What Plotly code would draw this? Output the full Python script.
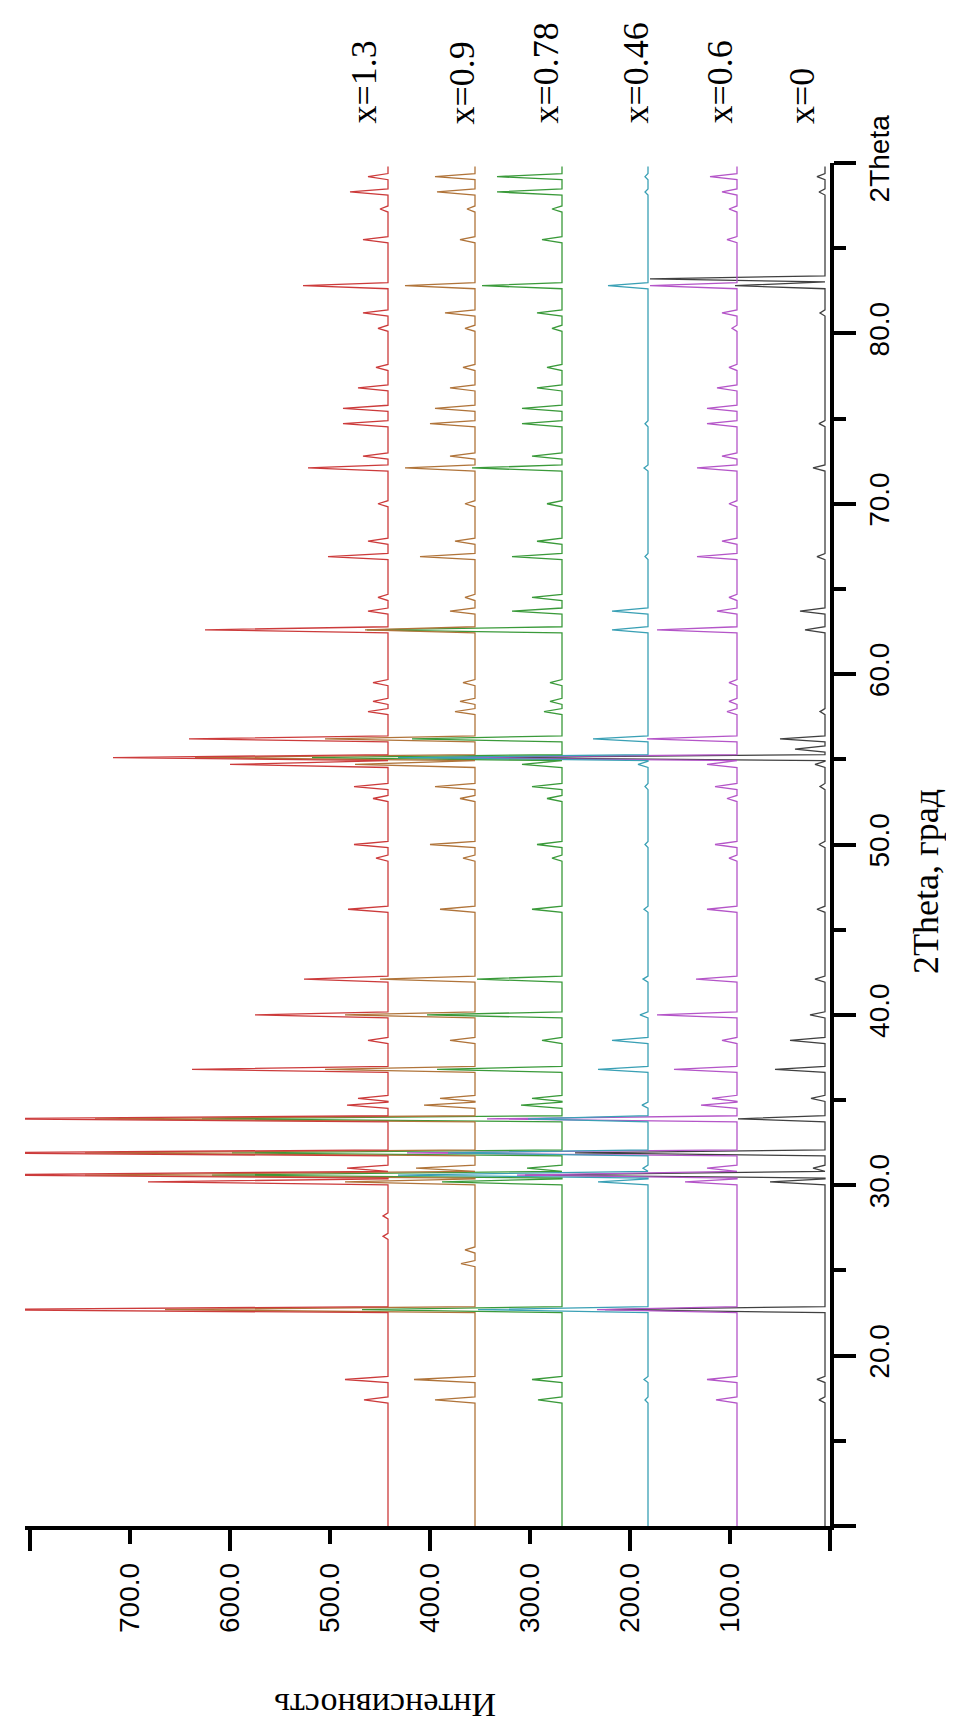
import plotly.graph_objects as go

# ---- data ----
PEAK_2THETA = [17.4, 18.6, 22.7, 25.4, 26.2, 27.0, 28.2, 30.2, 30.6, 31.0, 31.9, 33.9, 34.7, 35.1,
               36.8, 38.5, 40.0, 42.1, 46.2, 49.2, 50.0, 52.7, 53.4, 54.7, 55.1, 55.6, 56.2, 57.8,
               58.4, 59.5, 62.6, 63.7, 64.5, 66.9, 67.8, 70.0, 72.1, 72.8, 74.7, 75.6, 76.8, 78.0,
               80.3, 81.2, 82.8, 83.2, 85.5, 87.3, 88.3, 89.2]

H_X13 = [24, 43, 420, 0, 0, 5, 5, 240, 420, 41, 420, 420, 41, 30, 196, 20, 133, 84, 40, 12, 34, 15, 34,
         158, 275, 0, 199, 20, 15, 15, 183, 20, 10, 60, 20, 10, 80, 25, 45, 45, 30, 12, 10, 25, 85, 0,
         25, 8, 38, 20]
H_X09 = [40, 61, 310, 14, 10, 0, 0, 130, 390, 59, 390, 380, 51, 35, 150, 25, 130, 95, 35, 12, 45, 15, 40,
         120, 280, 0, 150, 20, 15, 12, 110, 25, 10, 55, 20, 10, 70, 25, 45, 40, 25, 12, 10, 30, 70, 0,
         15, 8, 38, 40]
H_X078 = [24, 30, 200, 0, 0, 0, 0, 120, 350, 35, 330, 360, 41, 30, 125, 20, 135, 85, 30, 10, 25, 15, 30,
          40, 250, 0, 150, 18, 12, 12, 195, 50, 30, 50, 25, 15, 90, 30, 40, 40, 25, 15, 10, 25, 80, 0,
          20, 10, 65, 65]
H_X046 = [3, 4, 170, 0, 0, 0, 0, 50, 250, 5, 200, 120, 6, 0, 50, 36, 8, 5, 4, 0, 3, 0, 3, 10, 250, 0,
          55, 0, 0, 0, 36, 36, 0, 3, 0, 0, 4, 0, 3, 0, 0, 0, 0, 0, 40, 0, 0, 0, 3, 3]
H_X06 = [21, 30, 140, 0, 0, 0, 0, 52, 220, 30, 330, 250, 36, 25, 63, 15, 80, 41, 30, 8, 22, 10, 22, 30,
         300, 0, 90, 10, 8, 8, 80, 20, 8, 40, 15, 8, 40, 15, 30, 30, 20, 8, 5, 15, 87, 0, 10, 8, 15, 27]
H_X0 = [6, 8, 220, 0, 0, 0, 0, 55, 300, 12, 250, 87, 0, 14, 50, 35, 15, 10, 8, 0, 6, 0, 5, 10, 350, 30,
        45, 5, 0, 0, 20, 25, 0, 8, 0, 0, 12, 0, 6, 0, 0, 0, 0, 5, 90, 175, 0, 0, 6, 8]

SERIES_LABELS = ["x=1.3", "x=0.9", "x=0.78", "x=0.46", "x=0.6", "x=0"]
SERIES_HEIGHTS = [H_X13, H_X09, H_X078, H_X046, H_X06, H_X0]
BASELINES = [442, 355, 268, 182, 93, 5]
THETA_START = 10.0
THETA_END = 89.8

X_TICKS = [100, 200, 300, 400, 500, 600, 700]
X_LONG_TICKS = [0, 200, 400, 600, 800]
Y_TICKS = [10, 20, 30, 40, 50, 60, 70, 80, 90]
Y_TICK_TEXT = ["", "20.0", "30.0", "40.0", "50.0", "60.0", "70.0", "80.0", "2Theta"]
Y_MINOR = [15, 25, 35, 45, 55, 65, 75, 85]

COLORS = ["#cc3b3b", "#b0743a", "#3a9a3a", "#3aa0b5", "#b455c8", "#404040"]
HALF_WIDTH = 0.18

# ---- layout geometry (pixels) ----
W, H = 954, 1728
L, R, T, B = 17, 822, 155, 1518
PW, PH = R - L, B - T


def px_x(px):
    return (px - L) / PW


def px_y(py):
    return (B - py) / PH


fig = go.Figure()

order = [5, 4, 3, 2, 1, 0]
for i in order:
    base = BASELINES[i]
    hs = SERIES_HEIGHTS[i]
    tt = [THETA_START]
    ii = [base]
    for pos, h in zip(PEAK_2THETA, hs):
        if h > 0:
            tt += [pos - HALF_WIDTH, pos, pos + HALF_WIDTH]
            ii += [base, base + h, base]
    tt.append(THETA_END)
    ii.append(base)
    fig.add_trace(go.Scatter(x=ii, y=tt, mode="lines", name=SERIES_LABELS[i],
                             line=dict(color=COLORS[i], width=1.3), showlegend=False,
                             xaxis="x", yaxis="y"))

# invisible trace on overlay axis so it renders
fig.add_trace(go.Scatter(x=[0], y=[10], mode="markers", marker=dict(opacity=0),
                         showlegend=False, hoverinfo="skip", xaxis="x2", yaxis="y"))

tickfont = dict(family="Liberation Sans, Arial, sans-serif", size=28, color="black")
serif = "Liberation Serif, Times New Roman, serif"

fig.update_layout(
    width=W, height=H,
    margin=dict(l=L, r=W - R, t=T, b=H - B),
    paper_bgcolor="white", plot_bgcolor="white",
    xaxis=dict(range=[805, 0], showgrid=False, zeroline=False, showline=True,
               linecolor="black", linewidth=3.5, ticks="outside", ticklen=14, tickwidth=3.5,
               tickcolor="black", tickmode="array", tickvals=X_TICKS,
               ticktext=["%.1f" % v for v in X_TICKS], tickangle=-90, tickfont=tickfont,
               ticklabelstandoff=8, side="bottom", anchor="y"),
    xaxis2=dict(range=[805, 0], overlaying="x", side="bottom", anchor="y", showgrid=False,
                zeroline=False, showline=False, ticks="outside", ticklen=24, tickwidth=3.5,
                tickcolor="black", tickmode="array", tickvals=X_LONG_TICKS,
                showticklabels=False),
    yaxis=dict(range=[10, 90], side="right", showgrid=False, zeroline=False, showline=True,
               linecolor="black", linewidth=3.5, ticks="outside", ticklen=22, tickwidth=3.5,
               tickcolor="black", tickmode="array", tickvals=Y_TICKS, ticktext=Y_TICK_TEXT,
               tickangle=-90, tickfont=tickfont, ticklabelstandoff=0,
               minor=dict(tickmode="array", tickvals=Y_MINOR, ticks="outside", ticklen=12,
                          tickwidth=3.5, tickcolor="black")),
)

# extension of the bottom axis line beyond the 2Theta axis
fig.add_shape(type="line", xref="paper", yref="paper", x0=1, x1=px_x(846), y0=0, y1=0,
              line=dict(color="black", width=3.5))

# series labels
LABEL_X = [356, 454, 538, 628, 712, 794]
for lab, lx in zip(SERIES_LABELS, LABEL_X):
    fig.add_annotation(text=lab, xref="paper", yref="paper", x=px_x(lx), y=px_y(118),
                       xanchor="center", yanchor="bottom", textangle=-90, showarrow=False,
                       font=dict(family=serif, size=36, color="black"))

fig.add_annotation(text="2Theta, град", xref="paper", yref="paper", x=px_x(918), y=px_y(873),
                   xanchor="center", yanchor="middle", textangle=-90, showarrow=False,
                   font=dict(family=serif, size=36, color="black"))
fig.add_annotation(text="Интенсивность", xref="paper", yref="paper", x=px_x(377), y=px_y(1698),
                   xanchor="center", yanchor="middle", textangle=180, showarrow=False,
                   font=dict(family=serif, size=34, color="black"))

fig.write_html("out.html")
